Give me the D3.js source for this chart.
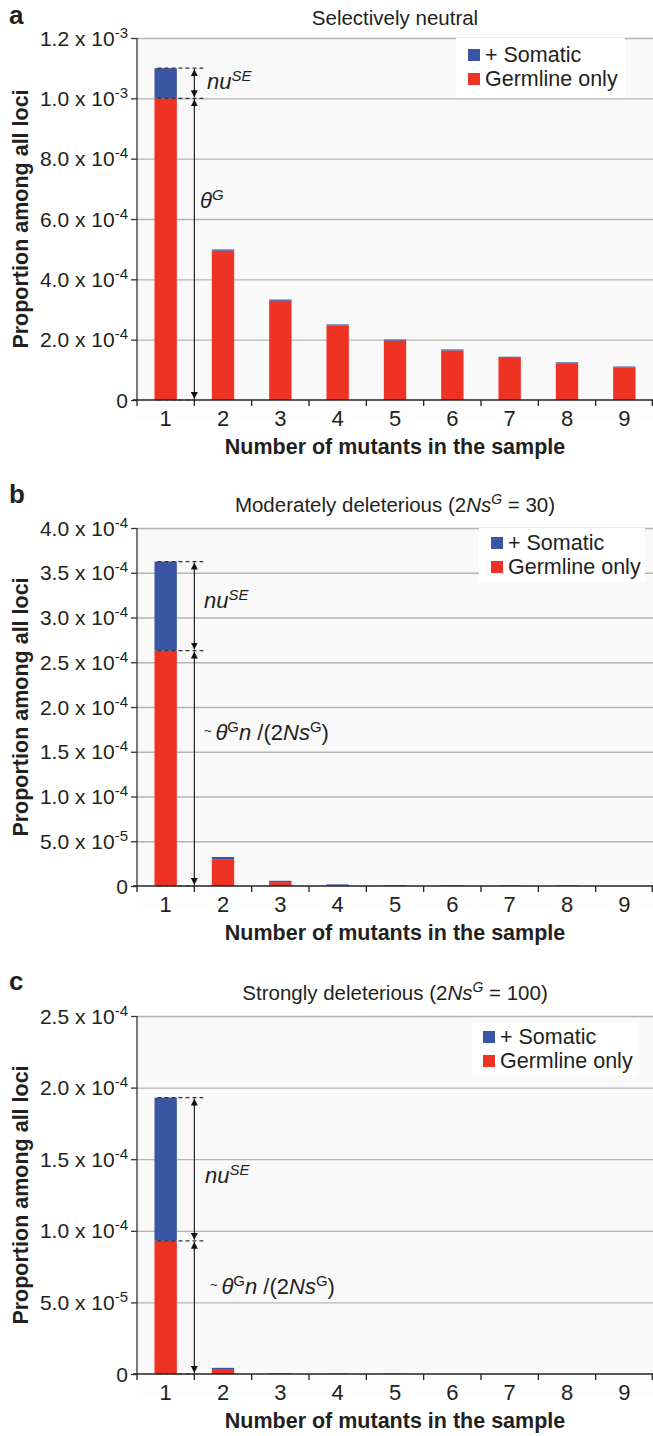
<!doctype html>
<html lang="en">
<head>
<meta charset="utf-8">
<title>Proportion among all loci by number of mutants</title>
<script src="https://d3js.org/d3.v7.min.js"></script>
<style>
  body { margin: 0; background: #fff; }
  svg text { fill: #231f20; font-family: "Liberation Sans", Arial, sans-serif; }
</style>
</head>
<body>
<svg id="chart" width="653" height="1436"></svg>
<script>
// x categories: number of mutants in the sample
var categories = ["1", "2", "3", "4", "5", "6", "7", "8", "9"];

// panel a - selectively neutral
var neutralGermline = [1.0e-3, 4.95e-4, 3.29e-4, 2.47e-4, 1.97e-4, 1.64e-4, 1.40e-4, 1.22e-4, 1.08e-4];
var neutralSomatic  = [1.0e-4, 4e-6, 4e-6, 3.5e-6, 3.5e-6, 3.5e-6, 3.5e-6, 3e-6, 3e-6];
var neutralTicks = [0, 2e-4, 4e-4, 6e-4, 8e-4, 1.0e-3, 1.2e-3];
var neutralTickLabels = [["0", ""], ["2.0 x 10", "-4"], ["4.0 x 10", "-4"], ["6.0 x 10", "-4"],
                         ["8.0 x 10", "-4"], ["1.0 x 10", "-3"], ["1.2 x 10", "-3"]];

// panel b - moderately deleterious (2NsG = 30)
var moderateGermline = [2.63e-4, 3.0e-5, 4.3e-6, 0.8e-6, 0.3e-6, 0.3e-6, 0.3e-6, 0.3e-6, 0];
var moderateSomatic  = [0.995e-4, 2.4e-6, 1.5e-6, 1.0e-6, 0.6e-6, 0.4e-6, 0.3e-6, 0.3e-6, 0];
var moderateTicks = [0, 0.5e-4, 1.0e-4, 1.5e-4, 2.0e-4, 2.5e-4, 3.0e-4, 3.5e-4, 4.0e-4];
var moderateTickLabels = [["0", ""], ["5.0 x 10", "-5"], ["1.0 x 10", "-4"], ["1.5 x 10", "-4"],
                          ["2.0 x 10", "-4"], ["2.5 x 10", "-4"], ["3.0 x 10", "-4"],
                          ["3.5 x 10", "-4"], ["4.0 x 10", "-4"]];

// panel c - strongly deleterious (2NsG = 100)
var strongGermline = [0.93e-4, 3.5e-6, 0.3e-6, 0.2e-6, 0.2e-6, 0, 0, 0, 0];
var strongSomatic  = [1.0e-4, 0.8e-6, 0.2e-6, 0.1e-6, 0.1e-6, 0, 0, 0, 0];
var strongTicks = [0, 0.5e-4, 1.0e-4, 1.5e-4, 2.0e-4, 2.5e-4];
var strongTickLabels = [["0", ""], ["5.0 x 10", "-5"], ["1.0 x 10", "-4"], ["1.5 x 10", "-4"],
                        ["2.0 x 10", "-4"], ["2.5 x 10", "-4"]];

var seriesNames = ["+ Somatic", "Germline only"];
var blue = "#3a55a4", red = "#ee3224";

var svg = d3.select("#chart");
var left = 137, right = 653;

var defs = svg.append("defs");
defs.append("marker")
    .attr("id", "head")
    .attr("viewBox", "0 0 10 10")
    .attr("refX", 10).attr("refY", 5)
    .attr("markerWidth", 7).attr("markerHeight", 7)
    .attr("markerUnits", "userSpaceOnUse")
    .attr("orient", "auto-start-reverse")
  .append("path")
    .attr("d", "M0,0 L10,5 L0,10 z")
    .attr("fill", "#111");

// rich text helper: parts = [{t, it, sup}]
function richText(g, x, y, parts, size) {
  var t = g.append("text").attr("x", x).attr("y", y).style("font-size", size + "px");
  var raised = false;
  parts.forEach(function(p) {
    var s = t.append("tspan").text(p.t);
    if (p.it) s.style("font-style", "italic");
    if (p.sup && !raised) { s.attr("dy", -8).style("font-size", (size * 0.68) + "px"); raised = true; }
    else if (p.sup) { s.style("font-size", (size * 0.68) + "px"); }
    else if (raised) { s.attr("dy", 8); raised = false; }
    if (p.small) s.style("font-size", (size * 0.6) + "px").attr("dy", -5);
    if (p.after) s.attr("dy", 5);
  });
  return t;
}

var panels = [
  { letter: "a", letterY: 24, title: [{t: "Selectively neutral"}], titleY: 25,
    top: 38, bottom: 400, germ: neutralGermline, som: neutralSomatic,
    ticks: neutralTicks, tickLabels: neutralTickLabels,
    legend: { x: 468, y: 49, box: [456, 38, 169, 60] },
    nuPos: [207, 89], thetaPos: [200, 208], thetaFull: false },
  { letter: "b", letterY: 503, title: [{t: "Moderately deleterious (2"}, {t: "Ns", it: true}, {t: "G", it: true, sup: true}, {t: " = 30)"}], titleY: 512,
    top: 528, bottom: 886, germ: moderateGermline, som: moderateSomatic,
    ticks: moderateTicks, tickLabels: moderateTickLabels,
    legend: { x: 491, y: 537, box: [479, 528, 166, 54] },
    nuPos: [204, 608], thetaPos: [204, 740], thetaFull: true },
  { letter: "c", letterY: 990, title: [{t: "Strongly deleterious (2"}, {t: "Ns", it: true}, {t: "G", it: true, sup: true}, {t: " = 100)"}], titleY: 1000,
    top: 1016, bottom: 1374, germ: strongGermline, som: strongSomatic,
    ticks: strongTicks, tickLabels: strongTickLabels,
    legend: { x: 483, y: 1031, box: [472, 1022, 166, 53] },
    nuPos: [205, 1183], thetaPos: [210, 1294], thetaFull: true }
];

var x = d3.scaleBand().domain(categories).range([left, right]).padding(0);
var barW = x.bandwidth() * 0.39;

panels.forEach(function(p) {
  var g = svg.append("g");
  var yMax = p.ticks[p.ticks.length - 1];
  var y = d3.scaleLinear().domain([0, yMax]).range([p.bottom, p.top]);

  // plot background + label strip
  g.append("rect").attr("x", left).attr("y", p.top).attr("width", right - left)
    .attr("height", p.bottom - p.top).attr("fill", "#f9f9f9");
  g.append("rect").attr("x", left).attr("y", p.bottom).attr("width", right - left)
    .attr("height", 20).attr("fill", "#fdfdfd");

  // gridlines
  g.append("g")
    .attr("transform", "translate(" + left + ",0)")
    .call(d3.axisLeft(y).tickValues(p.ticks.slice(1)).tickSize(-(right - left)).tickFormat(""))
    .call(function(s) { s.select(".domain").remove(); })
    .selectAll("line").attr("stroke", "#b5b5b5").attr("stroke-width", 1.3);

  // legend box
  g.append("rect").attr("x", p.legend.box[0]).attr("y", p.legend.box[1])
    .attr("width", p.legend.box[2]).attr("height", p.legend.box[3]).attr("fill", "#ffffff");
  seriesNames.forEach(function(name, i) {
    g.append("rect").attr("x", p.legend.x).attr("y", p.legend.y + i * 24)
      .attr("width", 12).attr("height", 12).attr("fill", i === 0 ? blue : red);
    g.append("text").attr("x", p.legend.x + 17).attr("y", p.legend.y + 13 + i * 24)
      .style("font-size", "21.5px").text(name);
  });

  // stacked bars
  var bars = g.append("g");
  categories.forEach(function(c, i) {
    var bx = x(c) + (x.bandwidth() - barW) / 2;
    var gTop = p.germ[i], sTop = p.germ[i] + p.som[i];
    if (p.germ[i] > 0)
      bars.append("rect").attr("x", bx).attr("width", barW)
        .attr("y", y(gTop)).attr("height", y(0) - y(gTop)).attr("fill", red);
    if (p.som[i] > 0)
      bars.append("rect").attr("x", bx).attr("width", barW)
        .attr("y", y(sTop)).attr("height", y(gTop) - y(sTop)).attr("fill", blue);
  });

  // y axis
  var ya = g.append("g")
    .attr("transform", "translate(" + left + ",0)")
    .call(d3.axisLeft(y).tickValues(p.ticks).tickSize(6).tickPadding(5).tickFormat(""));
  ya.select(".domain").attr("stroke", "#333").attr("stroke-width", 1.3).attr("d", "M0," + p.top + "V" + p.bottom);
  ya.selectAll(".tick line").attr("stroke", "#333").attr("stroke-width", 1.3);
  ya.selectAll(".tick").each(function(d, i) {
    var lab = p.tickLabels[i];
    var t = d3.select(this).append("text")
      .attr("x", -9).attr("y", 7).attr("text-anchor", "end")
      .style("font-family", "'Liberation Sans Narrow', 'Liberation Sans', sans-serif")
      .style("font-size", "21px").style("fill", "#231f20");
    t.append("tspan").text(lab[0]);
    if (lab[1]) t.append("tspan").attr("dy", -8).style("font-size", "15px").text(lab[1]);
  });

  // x axis: labels at band centers, ticks at band boundaries
  var xa = g.append("g")
    .attr("transform", "translate(0," + p.bottom + ")")
    .call(d3.axisBottom(x).tickSize(0).tickPadding(7));
  xa.select(".domain").attr("stroke", "#222").attr("stroke-width", 1.5)
    .attr("d", "M" + (left - 4) + ",0H" + right);
  xa.selectAll(".tick text")
    .style("font-family", "'Liberation Sans Narrow', 'Liberation Sans', sans-serif")
    .style("font-size", "22px").style("fill", "#231f20").attr("dy", "0.85em");
  categories.forEach(function(c) {
    g.append("line").attr("x1", x(c)).attr("x2", x(c))
      .attr("y1", p.bottom).attr("y2", p.bottom + 6).attr("stroke", "#222").attr("stroke-width", 1.3);
  });
  g.append("line").attr("x1", right - 0.7).attr("x2", right - 0.7)
    .attr("y1", p.bottom).attr("y2", p.bottom + 6).attr("stroke", "#222").attr("stroke-width", 1.3);

  // axis titles
  g.append("text").attr("x", (left + right) / 2).attr("y", p.bottom + 54)
    .attr("text-anchor", "middle").style("font-size", "21.5px").style("font-weight", "bold")
    .text("Number of mutants in the sample");
  g.append("text")
    .attr("transform", "translate(28," + ((p.top + p.bottom) / 2) + ") rotate(-90)")
    .attr("text-anchor", "middle").style("font-size", "21.5px").style("font-weight", "bold")
    .text("Proportion among all loci");

  // panel letter and title
  g.append("text").attr("x", 9).attr("y", p.letterY)
    .style("font-size", "26px").style("font-weight", "bold").text(p.letter);
  richText(g, (left + right) / 2, p.titleY, p.title, 20.5).attr("text-anchor", "middle");

  // annotations: dashed guides and double arrows at the 1|2 band boundary
  var ax = x(categories[1]);
  var bx1 = x(categories[0]) + (x.bandwidth() - barW) / 2;
  var total1 = p.germ[0] + p.som[0];
  [total1, p.germ[0], 0].forEach(function(v) {
    g.append("line").attr("x1", bx1 + 3).attr("x2", ax + (v === 0 ? 0 : 9))
      .attr("y1", y(v)).attr("y2", y(v))
      .attr("stroke", "#333").attr("stroke-width", 1.2).attr("stroke-dasharray", "4,3");
  });
  [[total1, p.germ[0]], [p.germ[0], 0]].forEach(function(seg) {
    g.append("line").attr("x1", ax).attr("x2", ax)
      .attr("y1", y(seg[0]) + 1).attr("y2", y(seg[1]) - 1)
      .attr("stroke", "#111").attr("stroke-width", 1.1)
      .attr("marker-start", "url(#head)").attr("marker-end", "url(#head)");
  });

  richText(g, p.nuPos[0], p.nuPos[1], [{t: "nu", it: true}, {t: "SE", it: true, sup: true}], 22);
  if (p.thetaFull) {
    richText(g, p.thetaPos[0], p.thetaPos[1],
      [{t: "~ ", small: true}, {t: "\u03b8", it: true, after: true}, {t: "G", sup: true}, {t: "n", it: true},
       {t: " /(2"}, {t: "Ns", it: true}, {t: "G", sup: true}, {t: ")"}], 22);
  } else {
    richText(g, p.thetaPos[0], p.thetaPos[1], [{t: "\u03b8", it: true}, {t: "G", it: true, sup: true}], 22);
  }
});
</script>
</body>
</html>
